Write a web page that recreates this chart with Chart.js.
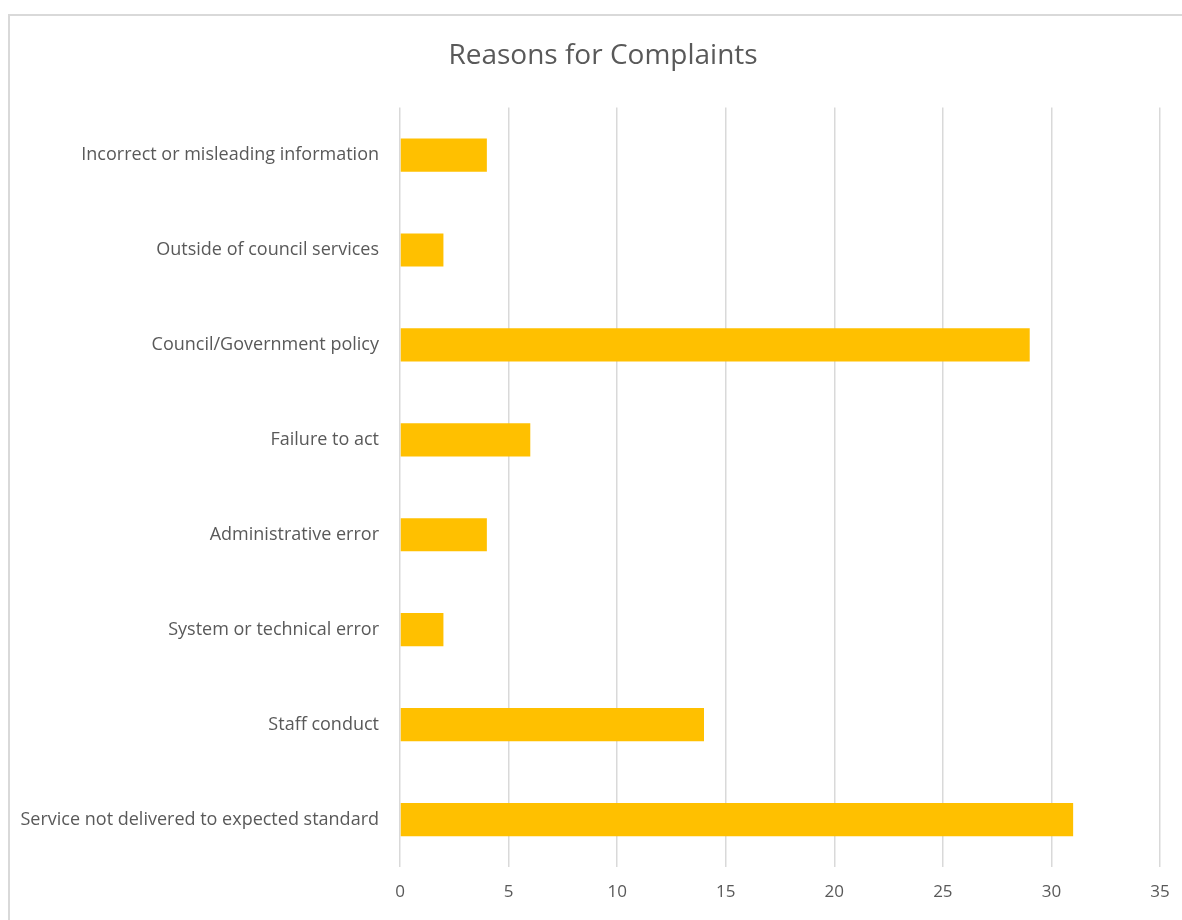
<!DOCTYPE html>
<html lang="en">
  <head>
    <meta charset="UTF-8" />
    <title>Reasons for Complaints</title>
    <script src="https://cdn.jsdelivr.net/npm/chart.js"></script>
    <style>
      html, body { margin: 0; padding: 0; background: #fff; overflow: hidden; }
      #frame {
        position: absolute; left: 8px; top: 14px; width: 1250px; height: 1000px;
        border: 2px solid #d9d9d9; box-sizing: border-box;
      }
      /* canvas a bit wider than the window so the title centres like the original */
      #wrap { position: absolute; left: 0; top: 0; width: 1206px; height: 920px; }
    </style>
  </head>
  <body>
    <div id="frame"></div>
    <div id="wrap"><canvas id="complaintsChart" width="1206" height="920"></canvas></div>
    <script>
      const categories = [
        "Incorrect or misleading information",
        "Outside of council services",
        "Council/Government policy",
        "Failure to act",
        "Administrative error",
        "System or technical error",
        "Staff conduct",
        "Service not delivered to expected standard",
      ];
      const complaints = [4, 2, 29, 6, 4, 2, 14, 31];
      const xTicks = [0, 5, 10, 15, 20, 25, 30, 35];

      const textColor = "#595959";
      const fontFamily = "'Open Sans', 'Noto Sans', sans-serif";

      const ctx = document.getElementById("complaintsChart").getContext("2d");
      new Chart(ctx, {
        type: "bar",
        data: {
          labels: categories,
          datasets: [
            {
              label: "Complaints",
              data: complaints,
              backgroundColor: "#FFC000",
              barPercentage: 0.35,
              categoryPercentage: 1,
            },
          ],
        },
        options: {
          indexAxis: "y",
          responsive: false,
          animation: false,
          layout: { padding: 0 },
          scales: {
            x: {
              min: xTicks[0],
              max: xTicks[xTicks.length - 1],
              afterBuildTicks: (axis) => {
                axis.ticks = xTicks.map((v) => ({ value: v }));
              },
              afterFit: (axis) => { axis.height = 53; },
              grid: { color: "#d9d9d9", lineWidth: 1.5, drawTicks: false },
              border: { display: false },
              ticks: {
                color: textColor,
                padding: 15,
                font: { family: fontFamily, size: 17 },
              },
            },
            y: {
              afterFit: (axis) => { axis.width = 400; },
              grid: { display: false, drawTicks: false },
              border: { display: false },
              ticks: {
                color: textColor,
                padding: 21,
                font: { family: fontFamily, size: 18 },
              },
            },
            // empty spacer on the right, keeps plot edge at x=1160
            spacer: {
              type: "linear",
              position: "right",
              afterFit: (axis) => { axis.width = 46; },
              grid: { display: false, drawTicks: false },
              border: { display: false },
              ticks: { display: false },
            },
          },
          plugins: {
            legend: { display: false },
            tooltip: { enabled: false },
            title: {
              display: true,
              text: "Reasons for Complaints",
              color: textColor,
              font: { family: fontFamily, size: 28, weight: "normal" },
              padding: { top: 39, bottom: 35 },
            },
          },
        },
      });
    </script>
  </body>
</html>
